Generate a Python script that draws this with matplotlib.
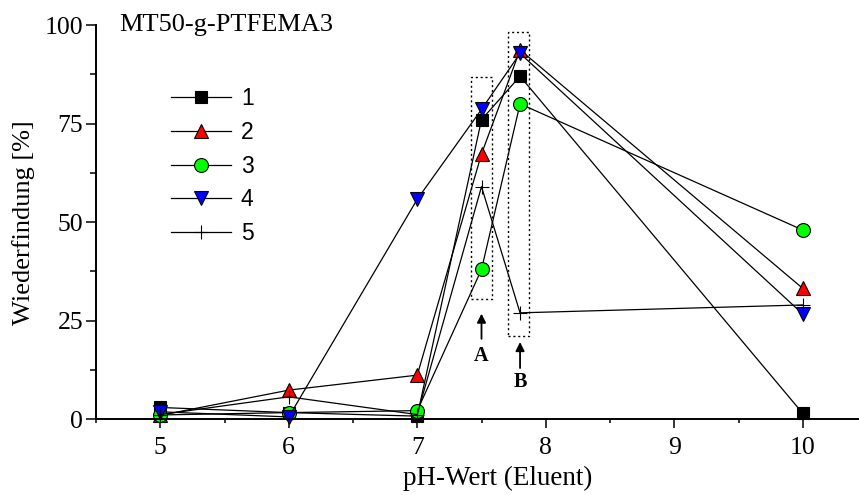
import matplotlib
matplotlib.use("Agg")
import matplotlib.pyplot as plt
from matplotlib.patches import Rectangle
from matplotlib.ticker import MultipleLocator

plt.rcParams['font.family'] = ['Liberation Serif', 'DejaVu Serif']

ph = [5, 6, 7, 7.5, 7.8, 10]
s1 = [3.0, 1.7, 0.8, 76, 87, 1.5]
s2 = [1.0, 7.4, 11.2, 67.3, 93.7, 33.2]
s3 = [1.1, 1.7, 2.2, 38, 80, 48]
s4 = [1.9, 0.6, 55.8, 78.6, 92.8, 26.7]
s5 = [1.2, 5.7, 1.2, 59, 27, 29]
labels = ['1', '2', '3', '4', '5']
title = 'MT50-g-PTFEMA3'
xlabel = 'pH-Wert (Eluent)'
ylabel = 'Wiederfindung [%]'

W, H = 859, 495
fig = plt.figure(figsize=(W/100, H/100), dpi=100)
left, right, top, bottom = 96, 867, 25, 419.3
ax = fig.add_axes([left/W, 1-bottom/H, (right-left)/W, (bottom-top)/H])

styles = [
    dict(marker='s', mfc='black', ms=8.5),
    dict(marker='^', mfc='#ff0000', ms=10.5),
    dict(marker='o', mfc='#00ff00', ms=10),
    dict(marker='v', mfc='#0000ff', ms=10.5),
    dict(marker='+', mfc='black', ms=10),
]
series = [s1, s2, s3, s4, s5]
zorders = [3, 3, 4, 3, 5]
handles = []
for s, st, lab, z in zip(series, styles, labels, zorders):
    h, = ax.plot(ph, s, color='black', lw=0.9, mec='black', mew=0.8,
                 label=lab, clip_on=False, **st)
    handles.append(h)

ax.set_xlim(4.5, 10.5)
ax.set_ylim(0, 100)
ax.xaxis.set_major_locator(MultipleLocator(1))
ax.xaxis.set_minor_locator(MultipleLocator(0.5))
ax.yaxis.set_major_locator(MultipleLocator(25))
ax.yaxis.set_minor_locator(MultipleLocator(12.5))
for sp in ['top', 'right']:
    ax.spines[sp].set_visible(False)
for sp in ['left', 'bottom']:
    ax.spines[sp].set_linewidth(1.4)
ax.tick_params(axis='y', which='major', direction='out', length=7.2, width=1.1, labelsize=18.5, pad=2)
ax.tick_params(axis='y', which='minor', direction='out', length=4.3, width=1.1)
ax.tick_params(axis='x', which='major', direction='out', length=6.5, width=1.1, labelsize=18.5, pad=6)
ax.tick_params(axis='x', which='minor', direction='out', length=3, width=1.1)

ax.set_xlabel(xlabel, fontsize=19.5)
ax.xaxis.set_label_coords((498-left)/(right-left), (bottom-478)/(bottom-top))
ax.set_ylabel(ylabel, fontsize=19)
ax.yaxis.set_label_coords((24-left)/(right-left), 0.5)
ax.xaxis.label.set_va('center')
ax.yaxis.label.set_va('center')

fig.text(119/W, 1-25/H, title, fontsize=19, va='center', ha='left')

# dotted boxes
ax.add_patch(Rectangle((7.42, 30.4), 0.16, 56.5, fill=False, ls=(0, (1.5, 2)), lw=1.0, ec='black'))
ax.add_patch(Rectangle((7.706, 21.1), 0.164, 77.0, fill=False, ls=(0, (1.5, 2)), lw=1.0, ec='black'))

# arrows and labels
for xa, y0, y1, lab, yl in [(7.5, 20.4, 26.8, 'A', 16.0), (7.8, 13.0, 19.6, 'B', 9.4)]:
    ax.annotate('', xy=(xa, y1), xytext=(xa, y0),
                arrowprops=dict(arrowstyle='-|>', color='black', lw=1.3,
                                mutation_scale=13, shrinkA=0, shrinkB=0))
    ax.text(xa, yl, lab, fontsize=14.5, fontweight='bold', ha='center', va='center')

leg = ax.legend(handles=handles, loc='upper left',
                bbox_to_anchor=((171-left)/(right-left), (bottom-87)/(bottom-top)),
                frameon=False, handlelength=2.6, handletextpad=0.45,
                labelspacing=0.47, borderpad=0, borderaxespad=0,
                prop={'family': 'Liberation Sans', 'size': 16.5})

fig.savefig('out.png', dpi=100)
